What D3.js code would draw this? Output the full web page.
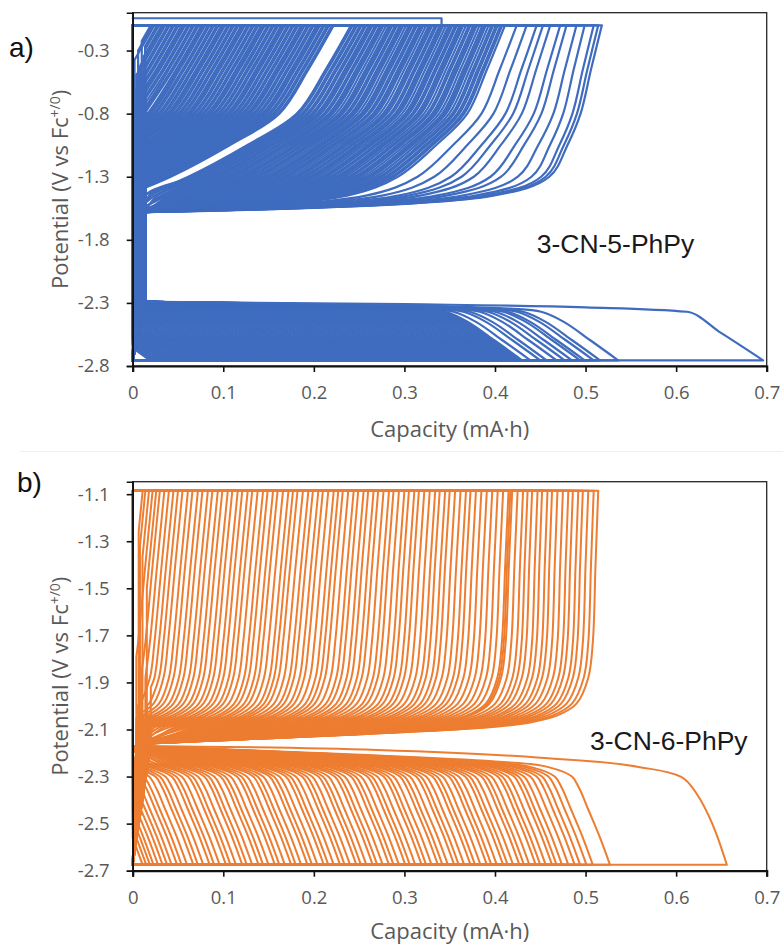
<!DOCTYPE html>
<html><head><meta charset="utf-8">
<script src="https://cdn.jsdelivr.net/npm/d3@7"></script>
<style>body{margin:0;background:#fff}svg{display:block}</style>
</head><body>
<svg id="chart" width="783" height="946"></svg>
<script>
// ---------------- DATA ----------------
const xTicks = [0, 0.1, 0.2, 0.3, 0.4, 0.5, 0.6, 0.7];
const xTickLabels = ["0", "0.1", "0.2", "0.3", "0.4", "0.5", "0.6", "0.7"];
const aYTicks = [-2.8, -2.3, -1.8, -1.3, -0.8, -0.3];
const aYTickLabels = ["-2.8", "-2.3", "-1.8", "-1.3", "-0.8", "-0.3"];
const bYTicks = [-2.7, -2.5, -2.3, -2.1, -1.9, -1.7, -1.5, -1.3, -1.1];
const bYTickLabels = ["-2.7", "-2.5", "-2.3", "-2.1", "-1.9", "-1.7", "-1.5", "-1.3", "-1.1"];

// Panel a (3-CN-5-PhPy): end capacity (mA·h) of each oxidation / reduction curve
const aOxCap = [0.518,0.514,0.509,0.499,0.490,0.479,0.472,0.461,0.453,0.446,0.435,0.424,
 0.411,0.408,0.406,0.403,0.401,0.398,0.396,0.393,0.390,0.388,0.386,0.383,0.380,0.378,0.376,0.373,0.371,0.368,0.365,0.363,0.361,0.358,0.356,0.353,0.351,0.349,0.346,0.343,0.341,0.339,0.336,0.334,0.331,0.329,0.327,0.324,0.321,0.319,0.317,0.314,0.312,0.309,0.307,0.305,0.302,0.299,0.297,0.295,0.292,0.290,0.287,0.285,0.283,0.280,0.277,0.275,0.273,0.270,0.268,0.265,0.263,0.261,0.258,0.256,0.253,0.251,0.248,0.246,0.243,0.241,
 0.222,0.220,0.217,0.215,0.212,0.210,0.207,0.205,0.203,0.200,0.198,0.195,0.193,0.190,0.188,0.186,0.183,0.181,0.178,0.176,0.173,0.171,0.168,0.166,0.164,0.161,0.159,0.156,0.154,0.151,0.149,0.146,0.144,0.142,0.139,0.137,0.134,0.132,0.129,0.127,0.124,0.122,0.120,0.117,0.115,0.112,0.110,0.107,0.105,0.102,0.100,0.098,0.095,0.093,0.090,0.088,0.085,0.083,0.080,0.078,0.076,0.073,0.071,0.068,0.066,0.063,0.061,0.058,0.056,0.054,0.051,0.049,0.046,0.044,0.041,0.039,0.036,0.034,0.032,0.029,0.027,0.024,0.022,0.020];
const aRedCap = [0.536,0.516,0.509,0.499,0.494,0.485,0.477,0.468,0.457,0.450,0.439,
 0.430,0.427,0.425,0.422,0.419,0.416,0.413,0.411,0.408,0.405,0.402,0.399,0.397,0.394,0.391,0.388,0.386,0.383,0.380,0.377,0.374,0.372,0.369,0.366,0.363,0.361,0.358,0.355,0.352,0.349,0.347,0.344,0.341,0.338,0.336,0.333,0.330,0.327,0.324,0.322,0.319,0.316,0.313,0.311,0.308,0.305,0.302,0.299,0.297,0.294,0.291,0.288,0.286,0.283,0.280,0.277,0.274,0.272,0.269,0.266,0.263,0.261,0.258,0.255,0.252,0.249,0.247,0.244,0.241,0.238,0.236,0.233,0.230,0.227,0.224,0.222,0.219,0.216,0.213,0.211,0.208,0.205,0.202,0.199,0.197,0.194,0.191,0.188,0.186,0.183,0.180,0.177,0.174,0.172,0.169,0.166,0.163,0.161,0.158,0.155,0.152,0.149,0.147,0.144,0.141,0.138,0.136,0.133,0.130,0.127,0.124,0.122,0.119,0.116,0.113,0.111,0.108,0.105,0.102,0.099,0.097,0.094,0.091,0.088,0.086,0.083,0.080,0.077,0.074,0.072,0.069,0.066,0.063,0.061,0.058,0.055,0.052,0.049,0.047,0.044,0.041,0.038,0.036,0.033,0.030,0.027,0.024,0.022,0.019];
// curve shapes (potential vs capacity distance from curve end)
const aOxShapeV  = [-0.10, -0.45, -0.80, -1.05, -1.30, -1.45];
const aOxSteepDc = [0, 0.012, 0.0235, 0.038, 0.058, 0.12];
const aOxSlantDc = [0, 0.028, 0.060, 0.115, 0.180, 0.23];
const aOxBlendCap = [0.24, 0.41, 0.50];
const aOxBlendW   = [1, 0.5, 0];
const aOxOnset = [0.0137, 0.002, 0.006, 0.010, 0.0137, 0.004, 0.008, 0.012, 0.0137];
const aRedShapeV = [-2.755, -2.60, -2.45, -2.37, -2.345];
const aRedDc     = [0, 0.03, 0.06, 0.085, 0.12];
// first cycle (explicit)
const aFirstRedCap = [0, 0.30, 0.50, 0.612, 0.65, 0.696];
const aFirstRedV   = [-2.29, -2.31, -2.335, -2.37, -2.54, -2.755];
const aFirstOxCap  = [0, 0.341, 0.341];
const aFirstOxV    = [-0.044, -0.044, -0.10];

// Panel b (3-CN-6-PhPy)
const bOxCap = [0.514,0.509,0.503,0.497,0.492,0.486,0.481,0.475,0.469,0.463,0.458,0.452,0.447,0.441,0.436,0.431,0.425,0.419,0.417,0.415,0.409,0.403,0.397,0.391,0.385,0.379,0.373,0.368,0.362,0.356,0.350,0.345,0.339,0.334,0.328,0.322,0.316,0.311,0.305,0.300,0.294,0.288,0.283,0.277,0.271,0.266,0.260,0.255,0.249,0.244,0.238,0.232,0.227,0.222,0.216,0.210,0.205,0.199,0.194,0.188,0.182,0.177,0.172,0.166,0.160,0.155,0.149,0.144,0.138,0.132,0.127,0.121,0.116,0.110,0.105,0.099,0.094,0.088,0.083,0.077,0.072,0.066,0.061,0.055,0.050,0.045,0.040,0.035,0.030,0.026,0.022,0.018,0.014,0.011];
const bRedCap = [0.527,0.508,0.501,0.494,0.488,0.481,0.474,0.468,0.463,0.456,0.450,0.445,0.438,0.432,0.427,0.420,0.414,0.409,0.402,0.396,0.391,0.384,0.378,0.373,0.366,0.360,0.355,0.348,0.342,0.337,0.330,0.324,0.319,0.312,0.306,0.301,0.294,0.288,0.283,0.276,0.270,0.265,0.258,0.252,0.247,0.240,0.234,0.229,0.222,0.216,0.211,0.204,0.198,0.193,0.186,0.180,0.175,0.168,0.162,0.157,0.150,0.144,0.139,0.132,0.126,0.121,0.114,0.108,0.103,0.096,0.090,0.085,0.078,0.072,0.067,0.060,0.054,0.049,0.043,0.038,0.033,0.028,0.023,0.019,0.015,0.011];
const bOxShapeV  = [-1.085, -1.40, -1.73, -1.88, -1.99, -2.04, -2.07, -2.09];
const bOxSteepDc = [0, 0.003, 0.006, 0.011, 0.024, 0.045, 0.075, 0.12];
const bOxSlantDc = [0, 0.008, 0.016, 0.021, 0.032, 0.050, 0.080, 0.125];
const bOxBlendCap = [0.20, 0.45];
const bOxBlendW   = [1, 0];
const bOxOnset = [0.004, 0.012, 0.008, 0.016, 0.020, 0.006, 0.014, 0.010, 0.018];
const bRedShapeV = [-2.675, -2.55, -2.44, -2.35, -2.30, -2.26, -2.24];
const bRedDc     = [0, 0.012, 0.024, 0.034, 0.042, 0.068, 0.11];
const bFirstRedCap = [0, 0.27, 0.45, 0.56, 0.605, 0.627, 0.645, 0.656];
const bFirstRedV   = [-2.17, -2.187, -2.22, -2.26, -2.30, -2.40, -2.55, -2.675];

// ---------------- DRAWING ----------------
const svg = d3.select("#chart");
const blue = "#3f6cbf", orange = "#ed7d31";
const tickColor = "#595959";
const fontUI = "'Open Sans', 'DejaVu Sans', sans-serif";

function lerpTable(xs, ys, x) {
  if (x <= xs[0]) return ys[0];
  if (x >= xs[xs.length - 1]) return ys[ys.length - 1];
  for (let i = 1; i < xs.length; i++) {
    if (x <= xs[i]) { const t = (x - xs[i-1]) / (xs[i] - xs[i-1]); return ys[i-1] + t * (ys[i] - ys[i-1]); }
  }
  return ys[ys.length - 1];
}
// points ordered by ascending capacity, clipped at minX
function clipAsc(pts, minX) {
  const out = [];
  for (let i = 0; i < pts.length; i++) {
    const p = pts[i];
    if (p[0] >= minX) {
      if (out.length === 0 && i > 0) {
        const q = pts[i-1]; const t = (minX - q[0]) / (p[0] - q[0]);
        out.push([minX, q[1] + t * (p[1] - q[1])]);
      }
      out.push(p);
    }
  }
  return out;
}

function panel(cfg) {
  const x = d3.scaleLinear().domain([0, 0.7]).range([132.7, 766.7]);
  const y = d3.scaleLinear().domain(cfg.yDomain).range(cfg.yRange);
  const g = svg.append("g");
  const lin = d3.line().x(d => x(d[0])).y(d => y(d[1]));
  const smooth = d3.line().x(d => x(d[0])).y(d => y(d[1])).curve(d3.curveCatmullRom.alpha(0.5));
  const mono = d3.line().x(d => x(d[0])).y(d => y(d[1])).curve(d3.curveMonotoneX);
  const curves = g.append("g").attr("fill", "none").attr("stroke", cfg.color)
    .attr("stroke-width", cfg.lw).attr("stroke-linejoin", "round").attr("stroke-linecap", "round");

  // reduction curves
  cfg.redCap.forEach(c => {
    const pts = cfg.redShapeV.map((v, i) => [c - cfg.redDc[i], v]).reverse();
    const seq = clipAsc(pts, 0);
    if (!seq.length) return;
    const first = seq[0];
    const d = lin([[0, cfg.topV], [0, cfg.redStartV]].concat(first[0] > 0 ? [] : [[0, first[1]]]))
      + smooth(first[0] > 0 ? [[0, cfg.redStartV]].concat(seq) : seq)
      + lin([[c, cfg.bottomV], [0, cfg.bottomV]]);
    curves.append("path").attr("d", d);
  });
  // oxidation curves
  cfg.oxCap.forEach((c, k) => {
    const w = lerpTable(cfg.oxBlendCap, cfg.oxBlendW, c);
    const e = Math.min(cfg.oxOnset[k % cfg.oxOnset.length], c * 0.6);
    const pts = cfg.oxShapeV.map((v, i) => [c - (w * cfg.oxSlantDc[i] + (1 - w) * cfg.oxSteepDc[i]), v]).reverse();
    const seq = clipAsc(pts, e);
    if (!seq.length) return;
    const onset = cfg.oxLowStartV !== null ? [[0, cfg.bottomV], [e, cfg.oxLowStartV], [e, cfg.oxStartV]] : [[0, cfg.bottomV], [e, cfg.oxStartV]];
    let body;
    if (seq[0][0] > e + 1e-9) body = [[e, cfg.oxStartV]].concat(seq);
    else { onset.push(seq[0]); body = seq; }
    const d = lin(onset) + (body.length > 1 ? smooth(body) : "") + lin([[c, cfg.topV], [0, cfg.topV]]);
    curves.append("path").attr("d", d);
  });
  // explicit first-cycle reduction curve (smooth) with its return line
  const fr = cfg.firstRed.c.map((c, i) => [c, cfg.firstRed.v[i]]);
  const last = fr[fr.length - 1];
  curves.append("path").attr("d", mono(fr) + lin([last, [0, last[1]]]));
  if (cfg.firstOx) curves.append("path").attr("d", lin(cfg.firstOx.c.map((c, i) => [c, cfg.firstOx.v[i]])));

  // frame
  g.append("rect").attr("x", x(0)).attr("y", cfg.yRange[1]).attr("width", x(0.7) - x(0))
    .attr("height", cfg.yRange[0] - cfg.yRange[1]).attr("fill", "none").attr("stroke", "#262626").attr("stroke-width", 1.3);

  // axes
  const xAxis = d3.axisBottom(x).tickValues(xTicks).tickFormat((d, i) => xTickLabels[i]).tickSize(6).tickPadding(14);
  const gx = g.append("g").attr("transform", `translate(0,${cfg.yRange[0]})`).call(xAxis);
  gx.select(".domain").attr("stroke", "#111").attr("stroke-width", 2.2);
  gx.selectAll(".tick line").attr("stroke", "#111").attr("stroke-width", 1.6);
  gx.selectAll(".tick text").attr("fill", tickColor).style("font-family", fontUI).style("font-size", "18.5px");

  const yAxis = d3.axisLeft(y).tickValues(cfg.yTicks).tickFormat((d, i) => cfg.yTickLabels[i]).tickSize(6).tickPadding(17);
  const gy = g.append("g").attr("transform", `translate(${x(0)},0)`).call(yAxis);
  gy.select(".domain").attr("stroke", "#111").attr("stroke-width", 1.6);
  gy.selectAll(".tick line").attr("stroke", "#111").attr("stroke-width", 1.6);
  gy.selectAll(".tick text").attr("fill", tickColor).style("font-family", fontUI).style("font-size", "18.5px");

  // titles
  g.append("text").attr("x", 449.7).attr("y", cfg.xTitleY).attr("text-anchor", "middle")
    .attr("fill", tickColor).style("font-family", fontUI).style("font-size", "22px").text("Capacity (mA·h)");
  const yt = g.append("text").attr("transform", `translate(${cfg.yTitleX},${(cfg.yRange[0] + cfg.yRange[1]) / 2}) rotate(-90)`)
    .attr("text-anchor", "middle").attr("fill", tickColor).style("font-family", fontUI).style("font-size", "22px");
  yt.append("tspan").text("Potential (V vs Fc");
  yt.append("tspan").attr("dy", -8).style("font-size", "14px").text("+/0");
  yt.append("tspan").attr("dy", 8).text(")");

  g.append("text").attr("x", cfg.tagX).attr("y", cfg.tagY).attr("fill", "#111")
    .style("font-family", "'Liberation Sans', Arial, sans-serif").style("font-size", "28px").text(cfg.tag);
  g.append("text").attr("x", cfg.nameX).attr("y", cfg.nameY).attr("fill", "#1a1a1a")
    .style("font-family", "'Liberation Sans', Arial, sans-serif").style("font-size", "26.5px").text(cfg.name);
}

panel({
  color: blue, lw: 2.2, yDomain: [-2.8, 0.0], yRange: [366, 12.7],
  yTicks: aYTicks, yTickLabels: aYTickLabels,
  topV: -0.10, bottomV: -2.755, redStartV: -2.29, oxStartV: -1.58, oxLowStartV: -2.29,
  oxCap: aOxCap, oxShapeV: aOxShapeV, oxSteepDc: aOxSteepDc, oxSlantDc: aOxSlantDc,
  oxBlendCap: aOxBlendCap, oxBlendW: aOxBlendW, oxOnset: aOxOnset,
  redCap: aRedCap, redShapeV: aRedShapeV, redDc: aRedDc,
  firstRed: {c: aFirstRedCap, v: aFirstRedV}, firstOx: {c: aFirstOxCap, v: aFirstOxV},
  xTitleY: 437, yTitleX: 68, tag: "a)", tagX: 9, tagY: 57, name: "3-CN-5-PhPy", nameX: 536.7, nameY: 253
});
panel({
  color: orange, lw: 2.0, yDomain: [-2.7, -1.047], yRange: [870.7, 481.7],
  yTicks: bYTicks, yTickLabels: bYTickLabels,
  topV: -1.085, bottomV: -2.675, redStartV: -2.17, oxStartV: -2.16, oxLowStartV: null,
  oxCap: bOxCap, oxShapeV: bOxShapeV, oxSteepDc: bOxSteepDc, oxSlantDc: bOxSlantDc,
  oxBlendCap: bOxBlendCap, oxBlendW: bOxBlendW, oxOnset: bOxOnset,
  redCap: bRedCap, redShapeV: bRedShapeV, redDc: bRedDc,
  firstRed: {c: bFirstRedCap, v: bFirstRedV}, firstOx: null,
  xTitleY: 939, yTitleX: 68, tag: "b)", tagX: 17, tagY: 492, name: "3-CN-6-PhPy", nameX: 590, nameY: 750
});
svg.append("line").attr("x1", 20).attr("x2", 783).attr("y1", 451.5).attr("y2", 451.5).attr("stroke", "#f0f0f0");
</script>
</body></html>
